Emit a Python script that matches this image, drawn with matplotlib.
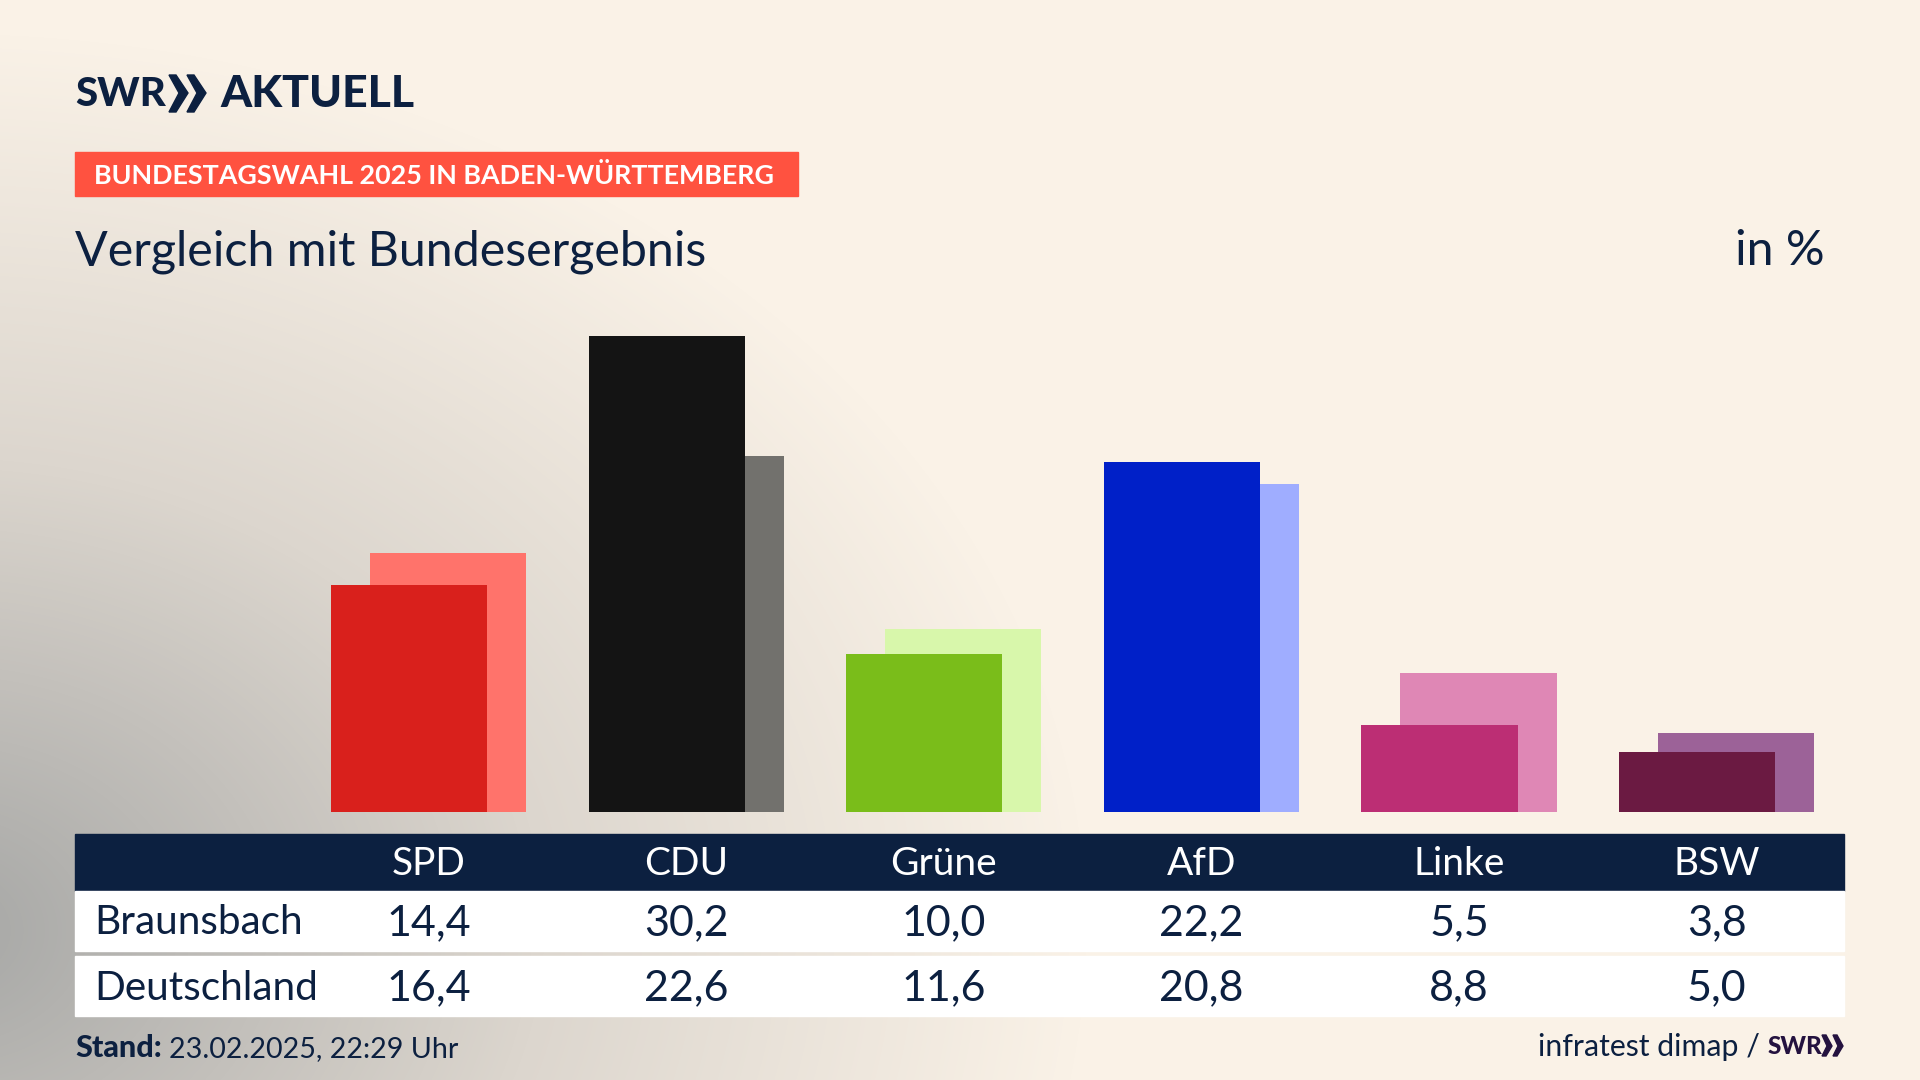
import numpy as np
import matplotlib.pyplot as plt
from matplotlib.colors import LinearSegmentedColormap
from matplotlib.patches import Rectangle, Polygon

parteien = ["SPD", "CDU", "Grüne", "AfD", "Linke", "BSW"]
braunsbach = [14.4, 30.2, 10.0, 22.2, 5.5, 3.8]
deutschland = [16.4, 22.6, 11.6, 20.8, 8.8, 5.0]
farben_vorn = ["#D9201C", "#141414", "#7ABD1A", "#0020C8", "#BC2E74", "#6B1A42"]
farben_hinten = ["#FF736B", "#72716D", "#D8F7AB", "#9FADFF", "#DF87B5", "#9C6298"]

NAVY = "#0C2040"
W, H = 1920, 1080
plt.rcParams["font.family"] = ["Lato", "DejaVu Sans"]

fig = plt.figure(figsize=(19.2, 10.8), dpi=100)

# ganze Flaeche in Pixelkoordinaten
ax = fig.add_axes([0, 0, 1, 1])
ax.set_xlim(0, W)
ax.set_ylim(H, 0)
ax.axis("off")

# Hintergrund: grauer Verlauf von unten links
yy, xx = np.mgrid[0:H, 0:W]
r = np.sqrt(((xx + 60) / 1150) ** 2 + ((yy - 930) / 900) ** 2)
t = np.clip(1 - r, 0, 1)
cmap = LinearSegmentedColormap.from_list("bg", ["#FAF2E7", "#DCD6CE", "#ABABA9"])
ax.imshow(t, cmap=cmap, vmin=0, vmax=0.95, extent=(0, W, H, 0), aspect="auto", zorder=0)

# Logo
ax.text(75, 94, "SWR", color=NAVY, fontsize=29, fontweight="black", va="center", ha="left")
for x0 in (169, 187):
    ax.add_patch(Polygon([(x0, 75), (x0 + 7, 75), (x0 + 19, 93), (x0 + 7, 112), (x0, 112), (x0 + 10, 93)],
                         color=NAVY, zorder=3))
ax.text(220, 94, "AKTUELL", color=NAVY, fontsize=32, fontweight="black", va="center", ha="left")

# Kopfzeile
ax.add_patch(Rectangle((75, 152), 723, 44, color="#FF5240", zorder=2))
ax.text(94, 176, "BUNDESTAGSWAHL 2025 IN BADEN-WÜRTTEMBERG", color="white", fontsize=19.4,
        fontweight="bold", va="center", ha="left", zorder=3)
ax.text(75, 265, "Vergleich mit Bundesergebnis", color=NAVY, fontsize=34.8, va="baseline", ha="left", zorder=3)
ax.text(1825, 265, "in %", color=NAVY, fontsize=34.8, va="baseline", ha="right", zorder=3)

# Balken
breite_gruppe = 257.6
x_erste = 428.6
y_null = 812
px_pro_prozent = 15.77
bx0 = x_erste - breite_gruppe * 0.5
bx1 = x_erste + breite_gruppe * 5.5
ymax = 31
ax_b = fig.add_axes([bx0 / W, 1 - y_null / H, (bx1 - bx0) / W, ymax * px_pro_prozent / H])
ax_b.set_xlim(-0.5, 5.5)
ax_b.set_ylim(0, ymax)
ax_b.axis("off")
ax_b.patch.set_alpha(0)
pos = np.arange(len(parteien))
ax_b.bar(pos + 0.0757, deutschland, width=0.6056, color=farben_hinten, linewidth=0, zorder=2)
ax_b.bar(pos - 0.0757, braunsbach, width=0.6056, color=farben_vorn, linewidth=0, zorder=3)

# Tabelle
ax.add_patch(Rectangle((75, 834), 1769, 57, color=NAVY, zorder=2))
ax.add_patch(Rectangle((75, 891), 1769, 60, color="white", zorder=2))
ax.add_patch(Rectangle((75, 956), 1769, 60, color="white", zorder=2))
ax.text(94, 923, "Braunsbach", color=NAVY, fontsize=29.2, va="center", ha="left", zorder=3)
ax.text(94, 988, "Deutschland", color=NAVY, fontsize=29.2, va="center", ha="left", zorder=3)
for i, name in enumerate(parteien):
    xc = x_erste + i * breite_gruppe
    ax.text(xc, 864, name, color="white", fontsize=28, va="center", ha="center", zorder=3)
    ax.text(xc, 923, f"{braunsbach[i]:.1f}".replace(".", ","), color=NAVY, fontsize=31,
            va="center", ha="center", zorder=3)
    ax.text(xc, 988, f"{deutschland[i]:.1f}".replace(".", ","), color=NAVY, fontsize=31,
            va="center", ha="center", zorder=3)

# Fusszeile
ax.text(75, 1057, "Stand:", color=NAVY, fontsize=22, fontweight="black", va="baseline", ha="left", zorder=3)
ax.text(169, 1057, "23.02.2025, 22:29 Uhr", color=NAVY, fontsize=20.6, va="baseline", ha="left", zorder=3)
ax.text(1760, 1056, "infratest dimap /", color=NAVY, fontsize=21.8, va="baseline", ha="right", zorder=3)
ax.text(1768, 1046, "SWR", color="#24123F", fontsize=17.5, fontweight="black", va="center", ha="left", zorder=3)
for x0 in (1822, 1833):
    ax.add_patch(Polygon([(x0, 1035), (x0 + 4, 1035), (x0 + 10, 1046), (x0 + 4, 1056), (x0, 1056), (x0 + 5, 1046)],
                         color="#24123F", zorder=3))

fig.savefig("out.png", dpi=100)
